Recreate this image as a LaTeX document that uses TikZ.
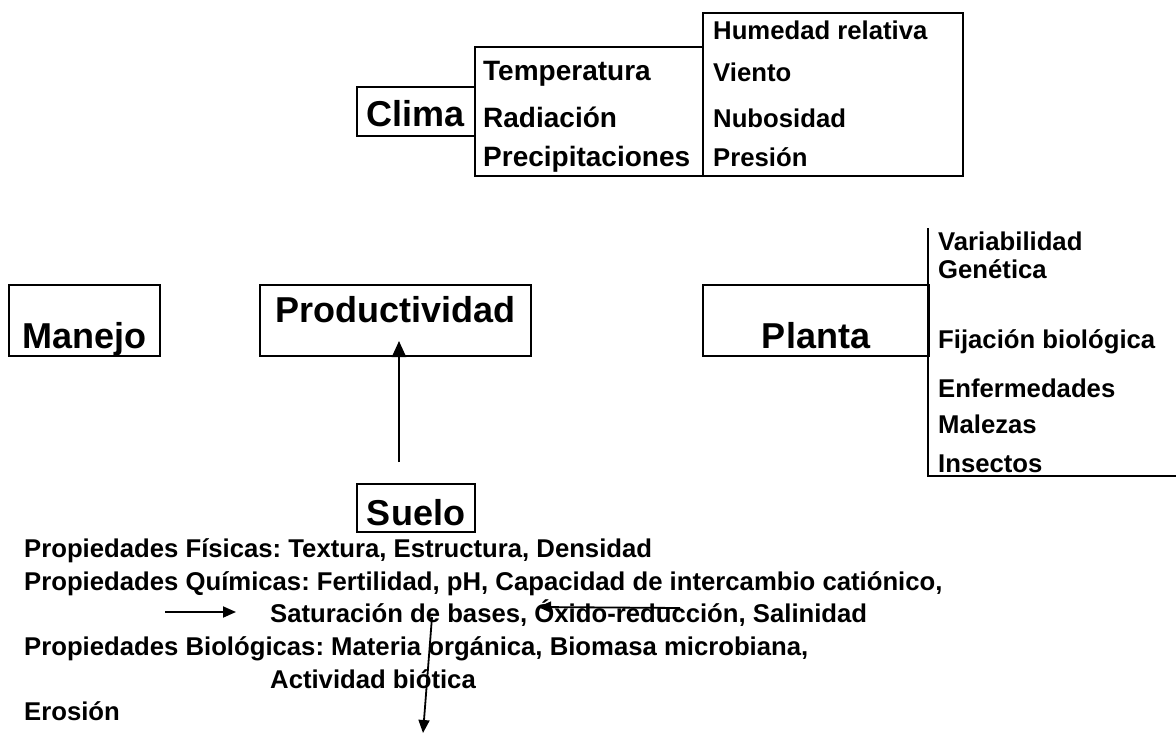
\documentclass[tikz,border=0pt]{standalone}
\usepackage{fontspec}
\setmainfont{Liberation Sans}
\usetikzlibrary{arrows.meta}
\frenchspacing
\begin{document}
\begin{tikzpicture}[x=1pt,y=-1pt,
  box/.style={draw, line width=2.4pt, inner sep=0pt, outer sep=0pt},
  big/.style={font=\fontsize{36}{40}\selectfont\bfseries, inner sep=0pt, anchor=base},
  mid/.style={font=\fontsize{28}{32}\selectfont\bfseries, inner sep=0pt, anchor=base west},
  sml/.style={font=\fontsize{25.7}{30}\selectfont\bfseries, inner sep=0pt, anchor=base west},
  arr/.style={line width=1.8pt, -{Triangle[length=13pt,width=11pt]}},
  bigarr/.style={line width=2pt, -{Triangle[length=16pt,width=14pt]}}
]
\useasboundingbox (0,0) rectangle (1176,733);

% boxes
\node[box, minimum width=118pt, minimum height=49pt] (climabox) at (416,111.5) {};
\node[box, minimum width=228pt, minimum height=129pt] (midbox) at (589,111.5) {};
\node[box, minimum width=260pt, minimum height=163pt] (rightbox) at (833,94.5) {};
\node[box, minimum width=151pt, minimum height=71pt] (manejobox) at (84.5,320.5) {};
\node[box, minimum width=271pt, minimum height=71pt] (prodbox) at (395.5,320.5) {};
\node[box, minimum width=226pt, minimum height=71pt] (plantabox) at (816,320.5) {};
\node[box, minimum width=118pt, minimum height=48pt] (suelobox) at (416,508) {};
\coordinate (ltop) at (928,228);
\coordinate (lcorner) at (928,476);
\coordinate (lend) at (1177,476);
\draw[line width=2.4pt] (ltop) -- (lcorner) -- (lend);

% big labels
\node[big] (clima) at (416,127) {Clima};
\node[big] (manejo) at (84.5,348) {Manejo};
\node[big] (prod) at (395.5,322) {Productividad};
\node[big] (planta) at (816,348) {Planta};
\node[big] (suelo) at (416,525) {Suelo};

% clima lists
\node[mid] (temp) at (483,81) {Temperatura};
\node[mid] (rad) at (483,128) {Radiación};
\node[mid] (prec) at (483,167) {Precipitaciones};
\node[sml] (hum) at (713,40) {Humedad relativa};
\node[sml] (vie) at (713,82) {Viento};
\node[sml] (nub) at (713,128) {Nubosidad};
\node[sml] (pres) at (713,167) {Presión};

% planta list
\node[sml] (var) at (938,250) {Variabilidad};
\node[sml] (gen) at (938,278) {Genética};
\node[sml] (fij) at (938,348) {Fijación biológica};
\node[sml] (enf) at (938,397) {Enfermedades};
\node[sml] (mal) at (938,433) {Malezas};
\node[sml] (ins) at (938,472) {Insectos};

% suelo text
\node[sml] (fis) at (24,557) {Propiedades Físicas: Textura, Estructura, Densidad};
\node[sml] (qui) at (24,590) {Propiedades Químicas: Fertilidad, pH, Capacidad de intercambio catiónico,};
\node[sml] (sat) at (270,622) {Saturación de bases, Óxido-reducción, Salinidad};
\node[sml] (bio) at (24,655) {Propiedades Biológicas: Materia orgánica, Biomasa microbiana,};
\node[sml] (act) at (270,688) {Actividad biótica};
\node[sml] (ero) at (24,720) {Erosión};

% arrows
\coordinate (a1s) at (399,462);
\coordinate (a1e) at (399,341);
\draw[bigarr] (a1s) -- (a1e);
\coordinate (a2s) at (165,612);
\coordinate (a2e) at (236,612);
\draw[arr] (a2s) -- (a2e);
\coordinate (a3s) at (680,608);
\coordinate (a3e) at (538,607);
\draw[arr] (a3s) -- (a3e);
\coordinate (a4s) at (432,617);
\coordinate (a4e) at (423,733);
\draw[arr] (a4s) -- (a4e);
\end{tikzpicture}
\end{document}
